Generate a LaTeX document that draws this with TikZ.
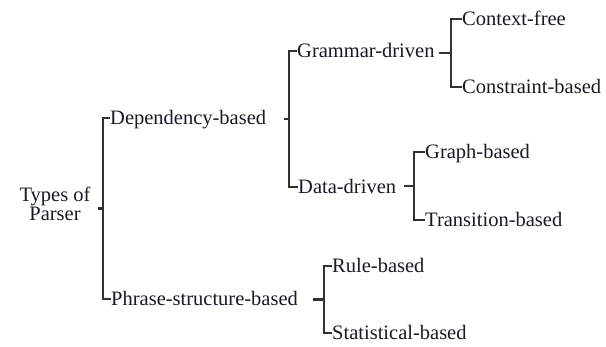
\documentclass[tikz,border=0pt]{standalone}
\usepackage{fontspec}
\setmainfont{Liberation Serif}
\usetikzlibrary{calc}
\definecolor{ln}{RGB}{50,50,50}
\definecolor{tx}{RGB}{25,25,40}
\begin{document}
\begin{tikzpicture}[x=1pt,y=-1pt,
  lbl/.style={anchor=west,inner sep=0pt,text height=14pt,text depth=0pt,text=tx,font=\fontsize{20.5}{18}\selectfont},
  rootlbl/.style={inner sep=0pt,align=center,text=tx,font=\fontsize{20.5}{19.5}\selectfont},
  conn/.style={draw=ln,line width=2.2pt}]
\useasboundingbox (0,0) rectangle (606,347);
\node[rootlbl] (root) at (55,204) {Types of\\Parser};
\node[lbl] (dep) at (110,118) {Dependency-based};
\node[lbl] (gram) at (297,51) {Grammar-driven};
\node[lbl] (cf) at (462,19) {Context-free};
\node[lbl] (cb) at (462,87) {Constraint-based};
\node[lbl] (data) at (298,187) {Data-driven};
\node[lbl] (gb) at (425,152) {Graph-based};
\node[lbl] (tb) at (425,220) {Transition-based};
\node[lbl] (phr) at (111,299) {Phrase-structure-based};
\node[lbl] (rb) at (332,266) {Rule-based};
\node[lbl] (sb) at (332,333) {Statistical-based};
% brackets
\draw[conn] (dep.west) -- ++(-7,0) |- (phr.west);
\draw[conn] (gram.west) -- ++(-8,0) |- (data.west);
\draw[conn] (cf.west) -- ++(-11,0) |- (cb.west);
\draw[conn] (gb.west) -- ++(-11,0) |- (tb.west);
\draw[conn] (rb.west) -- ++(-8,0) |- (sb.west);
% stubs
\coordinate (m0) at ($(dep.west)!.5!(phr.west)+(-7,0)$);
\coordinate (m1) at ($(gram.west)!.5!(data.west)+(-8,0)$);
\coordinate (m2) at ($(cf.west)!.5!(cb.west)+(-11,0)$);
\coordinate (m3) at ($(gb.west)!.5!(tb.west)+(-11,0)$);
\coordinate (m4) at ($(rb.west)!.5!(sb.west)+(-8,0)$);
\draw[conn] ($(m0)+(-6,0)$) -- (m0);
\draw[conn] ($(m1)+(-6,0)$) -- (m1);
\draw[conn] ($(m2)+(-12,0)$) -- (m2);
\draw[conn] ($(m3)+(-10,0)$) -- (m3);
\draw[conn] ($(m4)+(-11,0)$) -- (m4);
\end{tikzpicture}
\end{document}
